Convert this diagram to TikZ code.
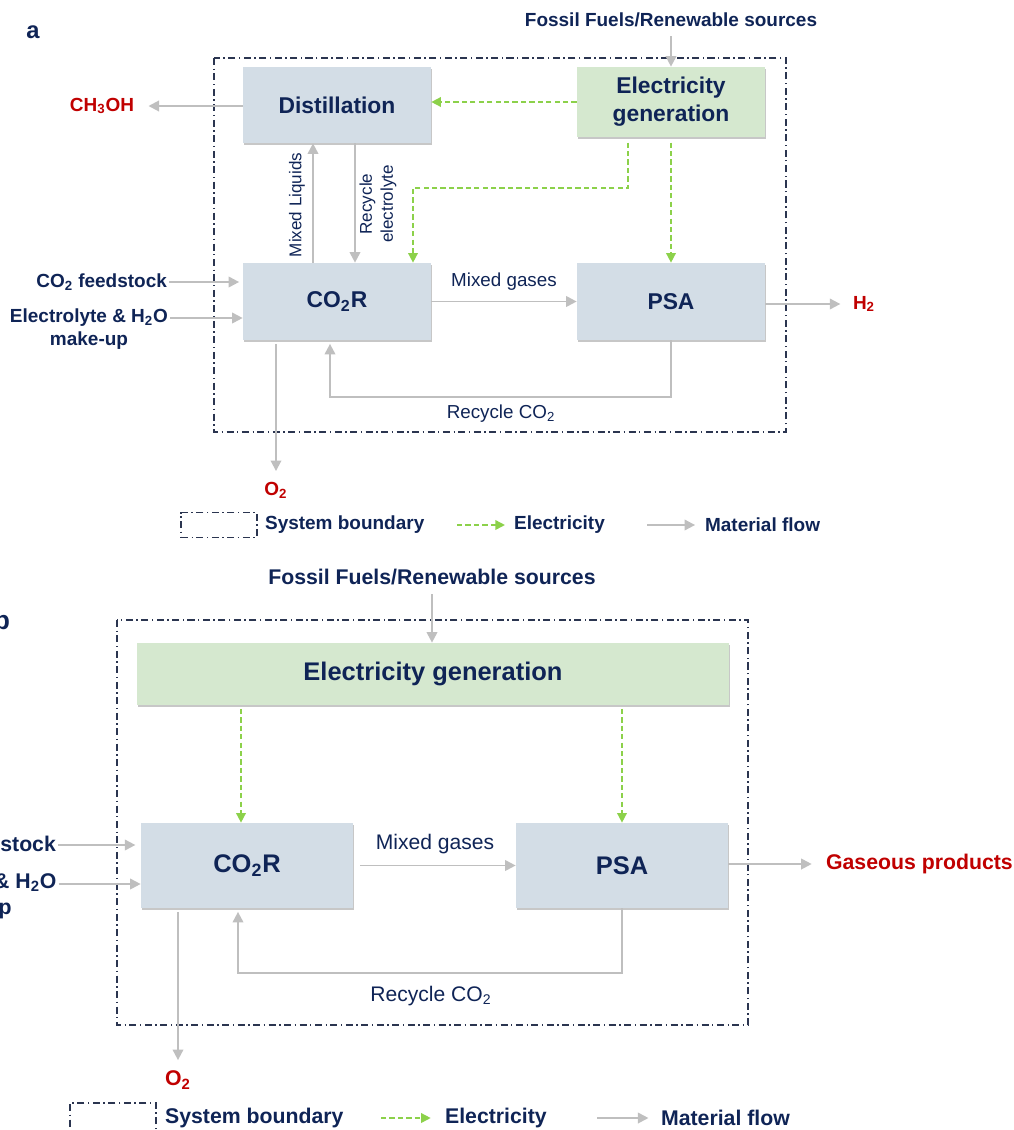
\documentclass[tikz,border=0pt]{standalone}
\usepackage{fontspec}
\setmainfont{Liberation Sans}
\usetikzlibrary{arrows.meta,shadows}

\definecolor{navytxt}{HTML}{0F2456}
\definecolor{prodred}{HTML}{C00000}
\definecolor{unitblue}{HTML}{D3DDE6}
\definecolor{gengreen}{HTML}{D5E8CF}
\definecolor{elecgreen}{HTML}{8CD14A}
\definecolor{flowgray}{HTML}{BFBFBF}
\definecolor{bndgray}{HTML}{2B3550}

\newcommand{\sbs}[1]{\textsubscript{#1}}
\newcommand{\fsA}{\fontsize{10.8}{13}\selectfont}
\newcommand{\fsAbox}{\fontsize{13}{16}\selectfont}
\newcommand{\fsAnote}{\fontsize{10.7}{13}\selectfont}
\newcommand{\fsAside}{\fontsize{9.7}{12}\selectfont}
\newcommand{\fsB}{\fontsize{12.1}{14.6}\selectfont}
\newcommand{\fsBbox}{\fontsize{14.5}{17}\selectfont}
\newcommand{\fsBnote}{\fontsize{12}{14.5}\selectfont}

\begin{document}
\begin{tikzpicture}[x=0.02cm, y=-0.02cm,
    every node/.style={text=navytxt, inner sep=1pt},
    unit/.style={fill=unitblue, inner sep=0pt, font=\bfseries\fsAbox,
        drop shadow={shadow xshift=0.6pt, shadow yshift=-1.4pt, fill=black, opacity=0.22}},
    gen/.style={unit, fill=gengreen},
    flow/.style={draw=flowgray, line width=1.1pt, -{Triangle[length=6pt,width=6pt]}},
    elec/.style={draw=elecgreen, line width=0.9pt, dash pattern=on 3pt off 1.8pt, -{Triangle[length=5.5pt,width=5.5pt]}},
    bnd/.style={draw=bndgray, line width=0.7pt, dash pattern=on 4pt off 2pt on 0.8pt off 2pt},
    lbl/.style={font=\bfseries\fsA},
    prod/.style={font=\bfseries\fsA, text=prodred},
    note/.style={font=\fsAnote},
    lblB/.style={font=\bfseries\fsB},
    prodB/.style={font=\bfseries\fsB, text=prodred},
    noteB/.style={font=\fsBnote}]
    \useasboundingbox (0,0) rectangle (1014,1130);

    % panel a
    \node[font=\bfseries\fontsize{13.5}{15}\selectfont] (tagA) at (33,32) {a};
    \node[lbl] (fossilA) at (671,20) {Fossil Fuels/Renewable sources};
    \draw[bnd] (214,58) rectangle (786,432);

    \node[unit, minimum width=3.76cm, minimum height=1.52cm] (distA) at (337,105) {Distillation};
    \node[gen, minimum width=3.76cm, minimum height=1.4cm, align=center] (elecA) at (671,102) {Electricity\\generation};
    \node[unit, minimum width=3.76cm, minimum height=1.54cm] (co2rA) at (337,301.5) {CO\sbs{2}R};
    \node[unit, minimum width=3.76cm, minimum height=1.54cm] (psaA) at (671,301.5) {PSA};

    \node[prod] (chA) at (102,106) {CH\sbs{3}OH};
    \node[prod] (h2A) at (864,304) {H\sbs{2}};
    \node[prod] (o2A) at (276,490) {O\sbs{2}};
    \node[lbl, anchor=east] (feedA) at (169,282) {CO\sbs{2} feedstock};
    \node[lbl, align=center] (elyA) at (89,329) {Electrolyte \& H\sbs{2}O\\make-up};

    \node[note] (mgA) at (504,282) {Mixed gases};
    \node[note] (rcTxtA) at (501,414) {Recycle CO\sbs{2}};
    \node[font=\fsAside, rotate=90] (mlTxtA) at (297,205) {Mixed Liquids};
    \node[font=\fsAside, rotate=90, align=center] (reTxtA) at (378,204) {Recycle\\electrolyte};

    \coordinate (mlA) at (313,0);
    \coordinate (reA) at (355,0);
    \coordinate (eA1) at (628,188);
    \coordinate (eA2) at (413,188);
    \coordinate (rcA) at (330,397);
    \coordinate (elyyA) at (0,318);

    \draw[flow, shorten <=4pt] (fossilA.south) -- (elecA.north -| fossilA.south);
    \draw[elec] (elecA.west) -- (distA.east |- elecA.west);
    \draw[elec, shorten <=3pt] (elecA.south -| eA1) |- (eA2) -- (co2rA.north -| eA2);
    \draw[elec, shorten <=3pt] (elecA.south) -- (psaA.north);
    \draw[flow, shorten >=7pt] (distA.west |- chA.east) -- (chA.east);
    \draw[flow] (co2rA.north -| mlA) -- (distA.south -| mlA);
    \draw[flow] (distA.south -| reA) -- (co2rA.north -| reA);
    \draw[flow] (co2rA.east) -- (psaA.west);
    \draw[flow, shorten >=6pt] (psaA.east |- h2A.west) -- (h2A.west);
    \draw[flow, shorten >=2pt] (psaA.south) |- (rcA) -- (co2rA.south -| rcA);
    \draw[flow, shorten <=2pt, shorten >=5pt] (co2rA.south -| o2A.north) -- (o2A.north);
    \draw[flow, shorten >=2pt] (feedA.east) -- (co2rA.west |- feedA.east);
    \draw[flow] (elyA.east |- elyyA) -- (co2rA.west |- elyyA);

    \node[bnd, minimum width=1.52cm, minimum height=0.5cm] (legBndA) at (219,525) {};
    \node[lbl, anchor=west] (legBndTxtA) at (263,525) {System boundary};
    \coordinate (legElA) at (457,525);
    \node[lbl, anchor=west] (legElTxtA) at (512,525) {Electricity};
    \draw[elec, shorten >=4pt] (legElA) -- (legElTxtA.west);
    \coordinate (legFlA) at (647,525);
    \node[lbl, anchor=west] (legFlTxtA) at (703,525) {Material flow};
    \draw[flow, shorten >=4.5pt] (legFlA) -- (legFlTxtA.west);

    % panel b
    \node[font=\bfseries\fontsize{15}{17}\selectfont] (tagB) at (2,620) {b};
    \node[lblB] (fossilB) at (432,577) {Fossil Fuels/Renewable sources};
    \draw[bnd] (117,620) rectangle (748,1025);

    \node[gen, font=\bfseries\fsBbox, minimum width=11.84cm, minimum height=1.24cm] (elecB) at (433,674) {Electricity generation};
    \node[unit, font=\bfseries\fsBbox, minimum width=4.24cm, minimum height=1.7cm] (co2rB) at (247,865.5) {CO\sbs{2}R};
    \node[unit, font=\bfseries\fsBbox, minimum width=4.24cm, minimum height=1.7cm] (psaB) at (622,865.5) {PSA};

    \node[prodB, anchor=west] (gasB) at (824,864) {Gaseous products};
    \node[prodB] (o2B) at (178,1080) {O\sbs{2}};
    \node[lblB, anchor=east] (feedB) at (58,845) {CO\sbs{2} feedstock};
    \node[lblB, align=center] (elyB) at (-32,896) {Electrolyte \& H\sbs{2}O\\make-up};

    \node[noteB] (mgB) at (435,844) {Mixed gases};
    \node[noteB] (rcTxtB) at (431,996) {Recycle CO\sbs{2}};

    \coordinate (eB1) at (241,0);
    \coordinate (eB2) at (622,0);
    \coordinate (rcB) at (238,973);
    \coordinate (elyyB) at (0,884);

    \draw[flow, shorten <=4pt] (fossilB.south) -- (elecB.north -| fossilB.south);
    \draw[elec, shorten <=2pt] (elecB.south -| eB1) -- (co2rB.north -| eB1);
    \draw[elec, shorten <=2pt] (elecB.south -| eB2) -- (psaB.north -| eB2);
    \draw[flow, shorten <=4pt] (co2rB.east) -- (psaB.west);
    \draw[flow, shorten >=7pt] (psaB.east |- gasB.west) -- (gasB.west);
    \draw[flow, shorten >=2pt] (psaB.south) |- (rcB) -- (co2rB.south -| rcB);
    \draw[flow, shorten <=2pt, shorten >=5pt] (co2rB.south -| o2B.north) -- (o2B.north);
    \draw[flow, shorten >=3pt] (feedB.east) -- (co2rB.west |- feedB.east);
    \draw[flow] (elyB.east |- elyyB) -- (co2rB.west |- elyyB);

    \node[bnd, minimum width=1.72cm, minimum height=0.56cm] (legBndB) at (113,1117) {};
    \node[lblB, anchor=west] (legBndTxtB) at (163,1118) {System boundary};
    \coordinate (legElB) at (381,1118);
    \node[lblB, anchor=west] (legElTxtB) at (443,1118) {Electricity};
    \draw[elec, shorten >=7pt] (legElB) -- (legElTxtB.west);
    \coordinate (legFlB) at (597,1118);
    \node[lblB, anchor=west] (legFlTxtB) at (659,1118) {Material flow};
    \draw[flow, shorten >=6pt] (legFlB) -- (legFlTxtB.west);
\end{tikzpicture}
\end{document}
